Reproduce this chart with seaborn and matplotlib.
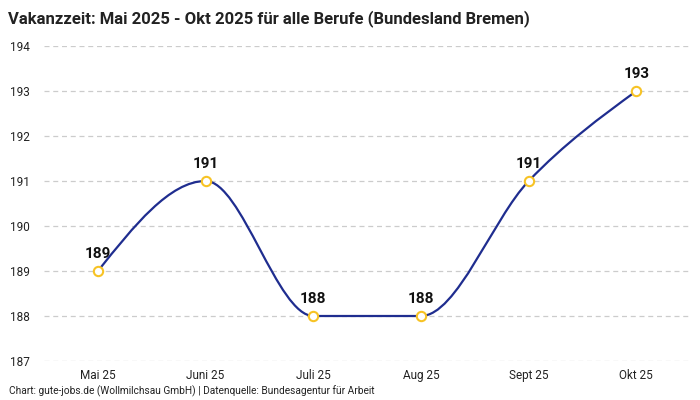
import numpy as np
import matplotlib
matplotlib.use("Agg")
import matplotlib.pyplot as plt
from matplotlib.path import Path
from matplotlib.patches import PathPatch
import seaborn as sns

# Daten
monate = ["Mai 25", "Juni 25", "Juli 25", "Aug 25", "Sept 25", "Okt 25"]
vakanzzeit = [189, 191, 188, 188, 191, 193]
y_ticks = [187, 188, 189, 190, 191, 192, 193, 194]

titel = "Vakanzzeit: Mai 2025 - Okt 2025 für alle Berufe (Bundesland Bremen)"
quelle = "Chart: gute-jobs.de (Wollmilchsau GmbH) | Datenquelle: Bundesagentur für Arbeit"

LINIE = "#1f2d8f"
PUNKT = "#f7c325"

sns.set_theme(style="white")
plt.rcParams["font.family"] = ["Roboto", "DejaVu Sans"]


def monotone_pfad(xs, ys):
    # Kurve wie d3.curveMonotoneX als Bezier-Pfad
    xs = np.asarray(xs, float)
    ys = np.asarray(ys, float)
    n = len(xs)
    t = np.zeros(n)
    for i in range(1, n - 1):
        h0 = xs[i] - xs[i - 1]
        h1 = xs[i + 1] - xs[i]
        s0 = (ys[i] - ys[i - 1]) / h0
        s1 = (ys[i + 1] - ys[i]) / h1
        p = (s0 * h1 + s1 * h0) / (h0 + h1)
        t[i] = (np.sign(s0) + np.sign(s1)) * min(abs(s0), abs(s1), 0.5 * abs(p))
    h = xs[1] - xs[0]
    t[0] = (3 * (ys[1] - ys[0]) / h - t[1]) / 2
    h = xs[-1] - xs[-2]
    t[-1] = (3 * (ys[-1] - ys[-2]) / h - t[-2]) / 2
    verts = [(xs[0], ys[0])]
    codes = [Path.MOVETO]
    for i in range(n - 1):
        dx = (xs[i + 1] - xs[i]) / 3
        verts += [(xs[i] + dx, ys[i] + dx * t[i]),
                  (xs[i + 1] - dx, ys[i + 1] - dx * t[i + 1]),
                  (xs[i + 1], ys[i + 1])]
        codes += [Path.CURVE4] * 3
    return Path(verts, codes)


fig = plt.figure(figsize=(7, 4), dpi=100)
ax = fig.add_axes([0.063, 0.0975, 0.923, 0.7875])

x = np.arange(len(monate))
ax.add_patch(PathPatch(monotone_pfad(x, vakanzzeit), facecolor="none",
                       edgecolor=LINIE, lw=1.6, zorder=2))
sns.scatterplot(x=x, y=vakanzzeit, ax=ax, s=45, color="white",
                edgecolor=PUNKT, linewidth=1.5, zorder=3, legend=False)

for xi, yi in zip(x, vakanzzeit):
    ax.annotate(str(yi), (xi, yi), xytext=(0, 7), textcoords="offset points",
                ha="center", va="bottom", fontsize=11, fontweight="bold",
                color="#111111")

ax.set_xlim(-0.5, len(monate) - 0.5)
ax.set_ylim(187, 194)
ax.set_xticks(x)
ax.set_xticklabels(monate)
ax.set_yticks(y_ticks)
ax.tick_params(axis="both", length=0, labelsize=8.5, colors="#222222")
ax.tick_params(axis="y", pad=10)
ax.tick_params(axis="x", pad=6)
ax.grid(axis="y", color="#cccccc", linestyle=(0, (4, 3)), linewidth=0.9)
ax.set_axisbelow(True)
sns.despine(ax=ax, left=True, bottom=True)

fig.text(0.012, 0.975, titel, fontsize=12, fontweight="bold", color="#222222",
         va="top", ha="left")
fig.text(0.013, 0.008, quelle, fontsize=7.3, color="#222222", va="bottom", ha="left")

fig.savefig("out.png", dpi=100)
